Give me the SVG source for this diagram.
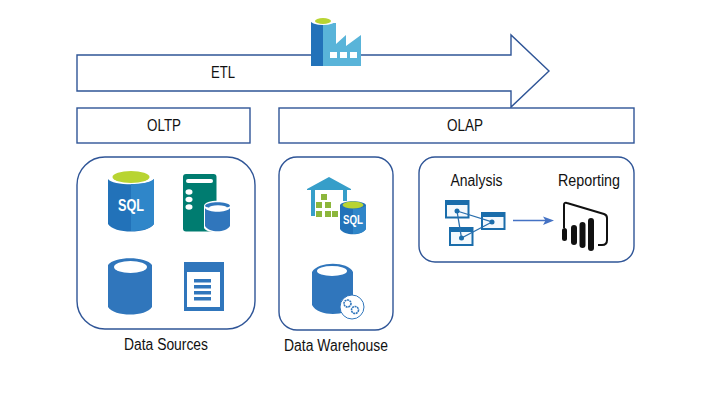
<svg xmlns="http://www.w3.org/2000/svg" width="706" height="420" viewBox="0 0 706 420">
<style>
.o{fill:#fff;stroke:#2f5597;stroke-width:1.4}
.t{font-family:"Liberation Sans",sans-serif;font-size:16px;fill:#111;text-anchor:middle}
.b{fill:#3076bc}
.g{fill:#8cb63c}
.w{fill:#fff}
.sql{font-family:"Liberation Sans",sans-serif;font-weight:bold;fill:#fff;text-anchor:middle}
.win{fill:#f4f9fd;stroke:#1a6dab;stroke-width:2}
.bar{fill:#1a6dab}
</style>
<rect width="706" height="420" fill="#fff"/>
<g id="etl-arrow">
<path class="o" d="M77 55H511V35L549 71L511 107V91H77Z"/>
<text class="t" x="223" y="78" textLength="24" lengthAdjust="spacingAndGlyphs">ETL</text>
</g>
<g id="factory">
<path d="M323 23H336V44L346 35V46L361 35V66H323Z" fill="#59b4d9"/>
<path d="M311 20H323V66H311Z" fill="#2272b9"/>
<ellipse cx="323" cy="20.500" rx="12.500" ry="4.500" fill="#fff"/>
<ellipse cx="323" cy="21" rx="8" ry="3" fill="#b8d432"/>
<rect class="w" x="330" y="52" width="7" height="6"/><rect class="w" x="340" y="52" width="7" height="6"/><rect class="w" x="350" y="52" width="7" height="6"/>
</g>
<g id="oltp"><rect class="o" x="77" y="108" width="173" height="35"/><text class="t" x="164" y="131" textLength="34" lengthAdjust="spacingAndGlyphs">OLTP</text></g>
<g id="olap"><rect class="o" x="279" y="108" width="355" height="35"/><text class="t" x="465" y="131" textLength="36" lengthAdjust="spacingAndGlyphs">OLAP</text></g>
<g id="data-sources">
<rect class="o" x="77" y="157" width="178" height="172" rx="28"/>
<g id="sql-db">
<path d="M108 179C112 186 150 186 154 179V224C148 234 114 234 108 224Z" fill="#2272b9"/>
<path d="M131 184C140 184 150 183 154 179V224C150 229 140 231 131 231Z" fill="#2f86c9"/>
<ellipse cx="131" cy="177" rx="18.500" ry="6" fill="#b8d432"/>
<text class="sql" x="131" y="211" font-size="16" textLength="26" lengthAdjust="spacingAndGlyphs">SQL</text>
</g>
<g id="server-db">
<rect x="183" y="174" width="33.500" height="57.500" rx="3" fill="#007c70"/>
<rect class="w" x="186" y="179" width="27" height="4" rx="2"/>
<ellipse class="w" cx="189" cy="192" rx="3.500" ry="2.700"/><ellipse class="w" cx="189" cy="199.500" rx="3.500" ry="2.700"/><ellipse class="w" cx="189" cy="207" rx="3.500" ry="2.700"/>
<path d="M204 206C204 199 231 199 231 206V228C228 234 207 234 204 228Z" fill="#fff"/>
<path d="M205 208C208 213 227 213 230 208V226C226 233 209 233 205 226Z" class="b"/>
<path d="M205 206C206 201 229 201 230 206C229 209 206 209 205 206Z" class="b"/>
<ellipse class="w" cx="218" cy="208" rx="9" ry="2.700"/>
</g>
<g id="db">
<path d="M108 265C114 256 146 256 152 265V307C146 317 114 317 108 307Z" class="b"/>
<ellipse class="w" cx="130.500" cy="267" rx="16.500" ry="6"/>
</g>
<g id="document">
<rect x="184" y="262" width="40" height="49" class="b"/>
<rect class="w" x="187" y="272" width="33" height="35"/>
<rect class="b" x="194" y="279" width="17" height="3.500"/><rect class="b" x="194" y="285" width="17" height="3.500"/><rect class="b" x="194" y="291" width="17" height="3.500"/><rect class="b" x="194" y="297" width="17" height="3.500"/>
</g>
<text class="t" x="166" y="350" textLength="84" lengthAdjust="spacingAndGlyphs">Data Sources</text>
</g>
<g id="data-warehouse">
<rect class="o" x="279" y="157" width="114" height="173" rx="18"/>
<g id="warehouse-sql">
<path d="M307 189L329 177L351 189V190H347V201H343V190H315V216H311V190H307Z" fill="#369ec9"/>
<g class="g"><rect x="321" y="194" width="6" height="6"/><rect x="316" y="202" width="6" height="6"/><rect x="325" y="202" width="6" height="6"/><rect x="316" y="211" width="6" height="6"/><rect x="325" y="211" width="6" height="6"/><rect x="332" y="211" width="6" height="6"/></g>
<path d="M340 205C343 200 363 200 366 205V229C362 236 344 236 340 229Z" fill="#2272b9"/>
<path d="M353 209C358 209 364 208 366 205V229C363 233 358 234 353 234Z" fill="#2f86c9"/>
<ellipse cx="353" cy="205" rx="10.500" ry="3.500" fill="#b8d432"/>
<text class="sql" x="353" y="224" font-size="12" textLength="20" lengthAdjust="spacingAndGlyphs">SQL</text>
</g>
<g id="db-gears">
<path d="M312 272C318 261 348 261 353 272V305C348 317 318 317 312 305Z" class="b"/>
<ellipse class="w" cx="332" cy="271" rx="15" ry="5"/>
<circle cx="352" cy="307" r="12" fill="#fff" stroke="#3076bc" stroke-width="1"/>
<circle cx="347.500" cy="303.500" r="3.500" fill="none" stroke="#3076bc" stroke-width="1.600" stroke-dasharray="2 .6"/>
<circle cx="355" cy="310" r="3.500" fill="none" stroke="#3076bc" stroke-width="1.600" stroke-dasharray="2 .6"/>
</g>
<text class="t" x="336" y="351" textLength="104" lengthAdjust="spacingAndGlyphs">Data Warehouse</text>
</g>
<g id="olap-tools">
<rect class="o" x="419" y="157" width="215" height="105" rx="16"/>
<g id="analysis">
<text class="t" x="476.500" y="186" textLength="52" lengthAdjust="spacingAndGlyphs">Analysis</text>
<rect class="win" x="446" y="201" width="22.500" height="16.500"/>
<rect class="win" x="482" y="213" width="22.500" height="16"/>
<rect class="win" x="450" y="228" width="22.500" height="17"/>
<rect class="bar" x="446" y="201" width="22.500" height="4"/><rect class="bar" x="482" y="213" width="22.500" height="4"/><rect class="bar" x="450" y="228" width="22.500" height="4"/>
<path d="M457 211L492 222L461.500 238Z" fill="none" stroke="#2a6fad" stroke-width="1.300"/>
<circle class="bar" cx="457" cy="211" r="2.500"/><circle class="bar" cx="492" cy="222" r="2.500"/><circle class="bar" cx="461.500" cy="238" r="2.500"/>
</g>
<g id="reporting">
<text class="t" x="589" y="186" textLength="62" lengthAdjust="spacingAndGlyphs">Reporting</text>
<path d="M564 228V205Q564 202 567 203L604 214Q607 215 607 218V240Q607 245 602 245H598" fill="none" stroke="#111" stroke-width="2"/>
<g fill="#111"><rect x="562" y="228" width="5" height="13" rx="2.500"/><rect x="571" y="225" width="6" height="20" rx="3"/><rect x="579.500" y="222" width="6" height="26" rx="3"/><rect x="588" y="218" width="6" height="33" rx="3"/></g>
</g>
</g>
<g id="connectors">
<path d="M513 220.500H546" fill="none" stroke="#4472c4" stroke-width="1.500"/>
<path d="M554 220.500L543 216.500L545.500 220.500L543 225Z" fill="#4472c4"/>
</g>
</svg>
